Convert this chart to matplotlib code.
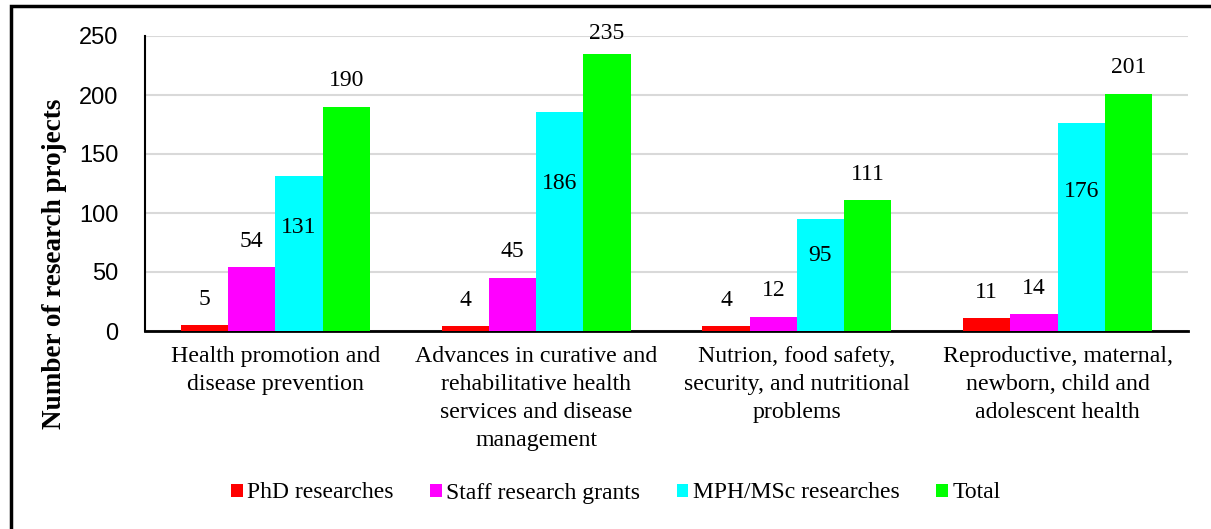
import matplotlib
matplotlib.use("Agg")
import matplotlib.pyplot as plt
import numpy as np
from matplotlib.patches import Rectangle

categories = [
    "Health promotion and\ndisease prevention",
    "Advances in curative and\nrehabilitative health\nservices and disease\nmanagement",
    "Nutrion, food safety,\nsecurity, and nutritional\nproblems",
    "Reproductive, maternal,\nnewborn, child and\nadolescent health",
]
series_names = ["PhD researches", "Staff research grants", "MPH/MSc researches", "Total"]
phd = [5, 4, 4, 11]
staff = [54, 45, 12, 14]
mph = [131, 186, 95, 176]
total = [190, 235, 111, 201]
yticks = [0, 50, 100, 150, 200, 250]

colors = ["#ff0000", "#ff00ff", "#00ffff", "#00ff00"]
all_series = [phd, staff, mph, total]

plt.rcParams['font.family'] = ['Liberation Serif', 'DejaVu Serif']

fig = plt.figure(figsize=(12.11, 5.29), dpi=100)
ax = fig.add_axes([145 / 1211, 1 - 331 / 529, (1188 - 145) / 1211, (331 - 36) / 529])

x = np.arange(len(categories))
w = 0.181
for i, (name, vals) in enumerate(zip(series_names, all_series)):
    pos = x + (i - 1.5) * w
    ax.bar(pos, vals, width=w, color=colors[i], label=name, zorder=3)
    for px, v in zip(pos, vals):
        if i == 2:
            # MPH/MSc labels sit inside the bar
            ax.text(px, v * 0.67, str(v), ha="center", va="center", fontsize=17, zorder=4)
        else:
            # above the bar, but kept near the top of the plot area
            ax.text(px, min(v + 22, 252), str(v), ha="center", va="center",
                    fontsize=17, zorder=4, clip_on=False)

ax.set_xlim(-0.5, 3.5)
ax.set_ylim(0, 250)
ax.set_yticks(yticks)
ax.set_yticklabels([str(t) for t in yticks], family="Liberation Sans", fontsize=17)
ax.set_xticks(x)
ax.set_xticklabels(categories, fontsize=17.2, linespacing=1.43)
ax.tick_params(axis="both", length=0)
ax.tick_params(axis="x", pad=11)
ax.tick_params(axis="y", pad=19)
ax.grid(axis="y", color="#d9d9d9", linewidth=1.5, zorder=0)
ax.spines["top"].set_visible(False)
ax.spines["right"].set_visible(False)
ax.spines["left"].set_linewidth(1.5)
ax.spines["bottom"].set_linewidth(2)

fig.text(55 / 1211, 1 - 264 / 529, "Number of research projects", rotation=90,
         ha="center", va="center", fontsize=19.5, fontweight="bold")

fig.legend(loc="center", bbox_to_anchor=(616 / 1211, 1 - 493 / 529), ncol=4, frameon=False,
           fontsize=17, handlelength=0.48, handleheight=0.48, handletextpad=0.2,
           columnspacing=1.55)

# outer frame
fig.patches.append(Rectangle((11 / 1211, -0.1), 1.2, 1 - 6 / 529 + 0.1, transform=fig.transFigure,
                             fill=False, edgecolor="black", linewidth=2.5))

fig.savefig("out.png", dpi=100)
